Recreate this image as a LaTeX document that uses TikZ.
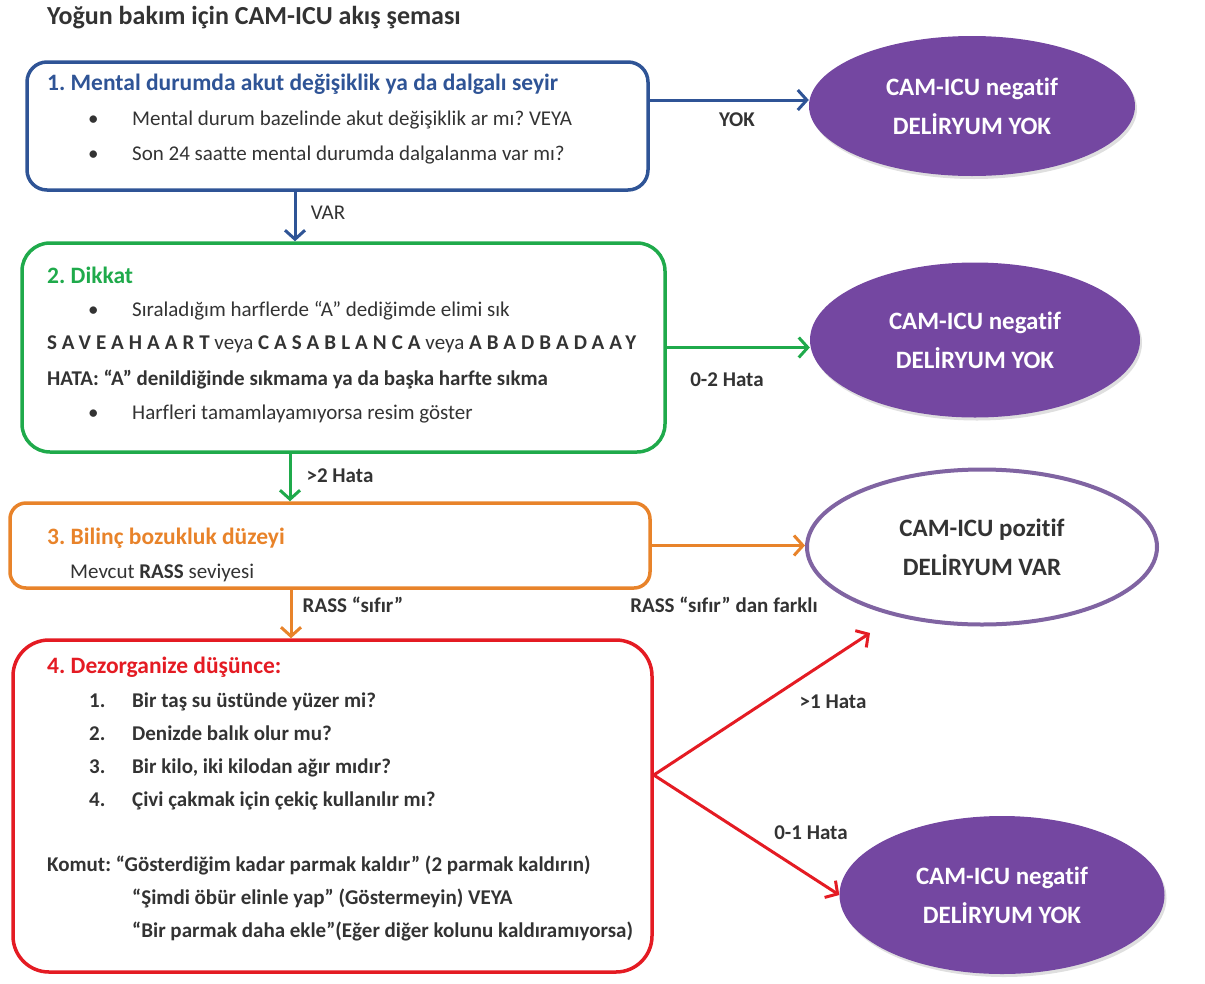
\documentclass[tikz,border=0pt]{standalone}
\usepackage{fontspec}
\setmainfont{Carlito}[Ligatures=NoCommon]
\usetikzlibrary{arrows.meta,shapes.geometric,shadows}
\frenchspacing

\definecolor{cblue}{HTML}{2F5496}
\definecolor{cgreen}{HTML}{1FAA4B}
\definecolor{corange}{HTML}{E8832A}
\definecolor{cred}{HTML}{E41B23}
\definecolor{cpurple}{HTML}{7447A1}
\definecolor{cline}{HTML}{8064A2}
\definecolor{ctext}{HTML}{333333}

\tikzset{
stepbox/.style = {draw=#1, line width=3.5pt, inner sep=0pt},
hd/.style = {anchor=west, inner sep=0pt, text=#1, font=\fontsize{23.5}{28}\selectfont\bfseries},
tx/.style = {anchor=west, inner sep=0pt, text height=15pt, text depth=5pt, text=ctext, font=\fontsize{21}{25}\selectfont},
txb/.style = {tx, font=\fontsize{21}{25}\selectfont\bfseries},
lbl/.style = {inner sep=0pt, text=ctext, font=\fontsize{21}{25}\selectfont\bfseries},
outcome/.style = {ellipse, inner sep=0pt, align=center, font=\fontsize{25}{39}\selectfont\bfseries},
flow/.style = {line width=3pt, -{Straight Barb[length=9pt,width=20pt]}}
}

\newcommand{\spaced}[1]{{\bfseries\addfontfeature{LetterSpace=24}#1}}

\begin{document}
\begin{tikzpicture}[x=1pt,y=-1pt]
\useasboundingbox (0,0) rectangle (1205,983);

\node[anchor=west, inner sep=0pt, text=ctext, font=\fontsize{26}{30}\selectfont\bfseries] (title) at (47,18) {Yoğun bakım için CAM-ICU akış şeması};

% the four steps
\node[stepbox=cblue, rounded corners=20pt, minimum width=621pt, minimum height=128pt] (b1) at (337.5,126) {};
\node[stepbox=cgreen, rounded corners=28pt, minimum width=643pt, minimum height=209pt] (b2) at (343.5,347.5) {};
\node[stepbox=corange, rounded corners=16pt, minimum width=640pt, minimum height=85pt] (b3) at (330,545.5) {};
\node[stepbox=cred, rounded corners=36pt, minimum width=639pt, minimum height=332pt] (b4) at (332.5,806) {};

% step 1
\node[hd=cblue] (h1) at (47,84) {1. Mental durumda akut değişiklik ya da dalgalı seyir};
\foreach \y/\t [count=\i] in {120/Mental durum bazelinde akut değişiklik ar mı? VEYA,155/Son 24 saatte mental durumda dalgalanma var mı?}
{
	\node[tx] (p1d\i) at (88,\y) {•};
	\node[tx] (p1\i) at (132,\y) {\t};
}

% step 2
\node[hd=cgreen] (h2) at (47,275) {2. Dikkat};
\node[tx] (p2d1) at (88,311) {•};
\node[tx] (p21) at (132,311) {Sıraladığım harflerde “A” dediğimde elimi sık};
\node[tx] (p22) at (47,344) {\spaced{SAVEAHAART} veya \spaced{CASABLANCA} veya \spaced{ABADBADAAY}};
\node[txb] (p23) at (47,380) {HATA: “A” denildiğinde sıkmama ya da başka harfte sıkma};
\node[tx] (p2d4) at (88,414) {•};
\node[tx] (p24) at (132,414) {Harfleri tamamlayamıyorsa resim göster};

% step 3
\node[hd=corange] (h3) at (47,538) {3. Bilinç bozukluk düzeyi};
\node[tx] (p31) at (70,573) {Mevcut \textbf{RASS} seviyesi};

% step 4
\node[hd=cred] (h4) at (47,667) {4. Dezorganize düşünce:};
\foreach \y/\t [count=\i] in {702/Bir taş su üstünde yüzer mi?,735/Denizde balık olur mu?,768/{Bir kilo, iki kilodan ağır mıdır?},801/Çivi çakmak için çekiç kullanılır mı?}
{
	\node[txb] (n4\i) at (89,\y) {\i.};
	\node[txb] (p4\i) at (132,\y) {\t};
}
\node[txb] (k1) at (47,866) {Komut: “Gösterdiğim kadar parmak kaldır” (2 parmak kaldırın)};
\node[txb] (k2) at (132,899) {“Şimdi öbür elinle yap” (Göstermeyin) VEYA};
\node[txb] (k3) at (132,932) {“Bir parmak daha ekle”(Eğer diğer kolunu kaldıramıyorsa)};

% outcomes
\node[outcome, fill=cpurple, text=white, drop shadow={opacity=0.25,shadow xshift=2pt,shadow yshift=-3pt}, minimum width=326pt, minimum height=140pt] (e1) at (972,106) {CAM-ICU negatif\\DELİRYUM YOK};
\node[outcome, fill=cpurple, text=white, drop shadow={opacity=0.25,shadow xshift=2pt,shadow yshift=-3pt}, minimum width=330pt, minimum height=155pt] (e2) at (975,340) {CAM-ICU negatif\\DELİRYUM YOK};
\node[outcome, draw=cline, line width=4pt, fill=white, text=ctext, minimum width=350pt, minimum height=155pt] (e3) at (982,547) {CAM-ICU pozitif\\DELİRYUM VAR};
\node[outcome, fill=cpurple, text=white, drop shadow={opacity=0.25,shadow xshift=2pt,shadow yshift=-3pt}, minimum width=325pt, minimum height=158pt] (e4) at (1002,895) {CAM-ICU negatif\\DELİRYUM YOK};

% connectors
\draw[flow, cblue] ([xshift=-42.5pt]b1.south) -- ([xshift=-48.5pt]b2.north);
\draw[flow, cblue] ([yshift=26pt]b1.east) -- ([yshift=26pt]b1.east -| e1.west);
\draw[flow, cgreen] ([xshift=-53.5pt]b2.south) -- ([xshift=-40pt]b3.north);
\draw[flow, cgreen] (b2.east) -- (b2.east -| e2.west);
\draw[flow, corange] ([xshift=-39pt]b3.south) -- ([xshift=-41.5pt]b4.north);
\draw[flow, corange] (b3.east) -- (b3.east -| e3.west);
\draw[flow, cred] ([yshift=31pt]b4.east) -- ([shift={(-112pt,-86pt)}]e3.center);
\draw[flow, cred] ([yshift=31pt]b4.east) -- (e4.west);

% labels
\node[lbl, font=\fontsize{21}{25}\selectfont] (lvar) at (328,213) {VAR};
\node[lbl] (lyok) at (737,120) {YOK};
\node[lbl] (lgt2) at (340,476) {>2 Hata};
\node[lbl] (l02) at (727,380) {0-2 Hata};
\node[lbl] (lrass) at (353,605) {RASS “sıfır”};
\node[lbl] (lfark) at (724,605) {RASS “sıfır” dan farklı};
\node[lbl] (lgt1) at (833,702) {>1 Hata};
\node[lbl] (l01) at (811,833) {0-1 Hata};
\end{tikzpicture}
\end{document}
